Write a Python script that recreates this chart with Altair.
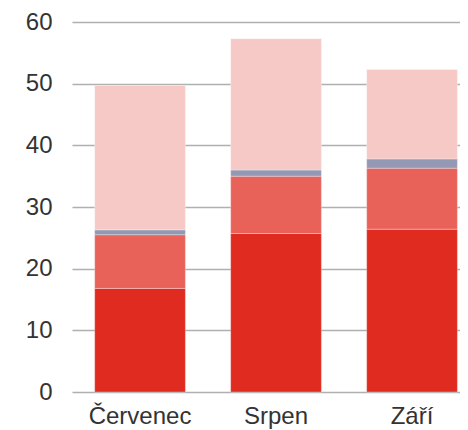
import altair as alt
import pandas as pd

months = ["Červenec", "Srpen", "Září"]
series = ["A", "B", "C", "D"]
colors = ["#e02b20", "#e8625a", "#9499b3", "#f6c9c7"]
values_A = [16.8, 25.7, 26.4]
values_B = [8.7, 9.3, 9.9]
values_C = [0.8, 1.0, 1.5]
values_D = [23.4, 21.3, 14.5]

rows = []
for si, (s, vals) in enumerate(zip(series, [values_A, values_B, values_C, values_D])):
    for m, v in zip(months, vals):
        rows.append({"month": m, "series": s, "value": v, "order": si})
df = pd.DataFrame(rows)

chart = alt.Chart(df).mark_bar(stroke="white", strokeWidth=1, strokeOpacity=0.3).encode(
    x=alt.X("month:N", sort=months, title=None,
            scale=alt.Scale(paddingInner=0.333, paddingOuter=0.093, align=0.897),
            axis=alt.Axis(labelAngle=0, labelFontSize=24, labelFont="Liberation Sans",
                          labelColor="#333333", domain=False, ticks=False, labelPadding=12)),
    y=alt.Y("value:Q", title=None, stack="zero",
            scale=alt.Scale(domain=[0, 60], nice=False),
            axis=alt.Axis(values=[0, 10, 20, 30, 40, 50, 60], labelFontSize=24,
                          labelFont="Liberation Sans", labelColor="#333333",
                          domain=False, ticks=False, labelPadding=20,
                          gridColor="#b0b0b0", gridWidth=1.5)),
    color=alt.Color("series:N", scale=alt.Scale(domain=series, range=colors), legend=None),
    order=alt.Order("order:Q", sort="ascending"),
).properties(
    width=388, height=370,
    autosize=alt.AutoSizeParams(type="none"),
    padding={"left": 64, "top": 14, "right": 0, "bottom": 38},
).configure_view(stroke=None)

chart.save("out.html", embed_options={"renderer": "svg", "actions": False})
